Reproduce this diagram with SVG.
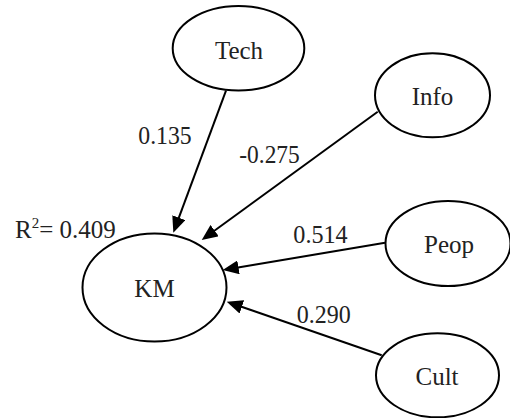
<svg xmlns="http://www.w3.org/2000/svg" width="510" height="418" viewBox="0 0 510 418">
<defs>
<marker id="ah" markerUnits="userSpaceOnUse" markerWidth="16" markerHeight="14" refX="8" refY="7" orient="auto">
<path d="M0,0 L16,7 L0,14 z" fill="#000"/>
</marker>
</defs>
<rect width="510" height="418" fill="#fff"/>
<g id="connectors" stroke="#000" stroke-width="2" fill="none">
<line x1="226" y1="90.7" x2="176.1" y2="225.2" marker-end="url(#ah)"/>
<line x1="377.7" y1="111.7" x2="208.2" y2="235.3" marker-end="url(#ah)"/>
<line x1="385" y1="242.7" x2="230.6" y2="268.7" marker-end="url(#ah)"/>
<line x1="381.7" y1="355.3" x2="234.3" y2="304.3" marker-end="url(#ah)"/>
</g>
<g id="edge-labels" font-family="Liberation Serif, serif" font-size="25" fill="#222">
<text x="138.3" y="144" textLength="53.4" lengthAdjust="spacingAndGlyphs">0.135</text>
<text x="239.3" y="163" textLength="60.5" lengthAdjust="spacingAndGlyphs">-0.275</text>
<text x="293.3" y="243.3" textLength="54.4" lengthAdjust="spacingAndGlyphs">0.514</text>
<text x="296.7" y="322.7" textLength="54" lengthAdjust="spacingAndGlyphs">0.290</text>
</g>
<g id="Tech">
<ellipse cx="238.5" cy="48.3" rx="65.8" ry="42.3" fill="#fff" stroke="#000" stroke-width="2"/>
<text x="239" y="59.3" text-anchor="middle" font-family="Liberation Serif, serif" font-size="25" fill="#222">Tech</text>
</g>
<g id="Info">
<ellipse cx="432.5" cy="95.3" rx="57.5" ry="42" fill="#fff" stroke="#000" stroke-width="2"/>
<text x="432.5" y="105.3" text-anchor="middle" font-family="Liberation Serif, serif" font-size="25" fill="#222">Info</text>
</g>
<g id="KM">
<ellipse cx="154.5" cy="287.5" rx="72" ry="54" fill="#fff" stroke="#000" stroke-width="2"/>
<text x="154.5" y="296.7" text-anchor="middle" font-family="Liberation Serif, serif" font-size="25" fill="#222">KM</text>
<text x="15" y="238.3" font-family="Liberation Serif, serif" font-size="25" fill="#222">R<tspan font-size="15" dy="-10">2</tspan><tspan dy="10">= 0.409</tspan></text>
</g>
<g id="Peop">
<ellipse cx="448" cy="243.5" rx="62.5" ry="42.5" fill="#fff" stroke="#000" stroke-width="2"/>
<text x="449" y="252.7" text-anchor="middle" font-family="Liberation Serif, serif" font-size="25" fill="#222">Peop</text>
</g>
<g id="Cult">
<ellipse cx="437.5" cy="375.3" rx="61.5" ry="42" fill="#fff" stroke="#000" stroke-width="2"/>
<text x="437" y="385" text-anchor="middle" font-family="Liberation Serif, serif" font-size="25" fill="#222">Cult</text>
</g>
</svg>
